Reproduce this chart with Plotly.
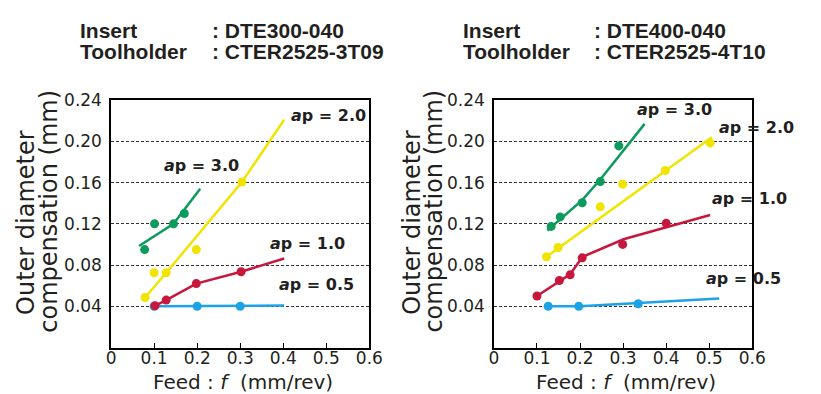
import plotly.graph_objects as go

W, H = 821, 394

# ---- left chart : DTE300-040 / CTER2525-3T09 ----
l_feed_05 = [0.10, 0.20, 0.30]
l_comp_05 = [0.040, 0.040, 0.040]
l_fit_feed_05 = [0.103, 0.402]
l_fit_comp_05 = [0.040, 0.0407]

l_feed_10 = [0.102, 0.128, 0.198, 0.302]
l_comp_10 = [0.0405, 0.046, 0.062, 0.0735]
l_fit_feed_10 = [0.102, 0.128, 0.198, 0.302, 0.402]
l_fit_comp_10 = [0.0405, 0.046, 0.062, 0.0735, 0.0864]

l_feed_20 = [0.079, 0.100, 0.128, 0.198, 0.304]
l_comp_20 = [0.0485, 0.0725, 0.0725, 0.095, 0.1605]
l_fit_feed_20 = [0.079, 0.128, 0.304, 0.402]
l_fit_comp_20 = [0.0485, 0.0725, 0.1605, 0.221]

l_feed_30 = [0.078, 0.101, 0.145, 0.170]
l_comp_30 = [0.095, 0.120, 0.120, 0.130]
l_fit_feed_30 = [0.065, 0.145, 0.207]
l_fit_comp_30 = [0.0985, 0.120, 0.154]

# ---- right chart : DTE400-040 / CTER2525-4T10 ----
r_feed_05 = [0.126, 0.197, 0.335]
r_comp_05 = [0.040, 0.040, 0.0425]
r_fit_feed_05 = [0.126, 0.200, 0.523]
r_fit_comp_05 = [0.040, 0.040, 0.0476]

r_feed_10 = [0.100, 0.152, 0.177, 0.205, 0.299, 0.400]
r_comp_10 = [0.050, 0.065, 0.0705, 0.087, 0.100, 0.1205]
r_fit_feed_10 = [0.100, 0.177, 0.206, 0.301, 0.502]
r_fit_comp_10 = [0.050, 0.071, 0.088, 0.105, 0.1285]

r_feed_20 = [0.122, 0.149, 0.247, 0.299, 0.398, 0.502]
r_comp_20 = [0.088, 0.097, 0.1365, 0.1585, 0.1717, 0.1985]
r_fit_feed_20 = [0.122, 0.506]
r_fit_comp_20 = [0.088, 0.204]

r_feed_30 = [0.133, 0.154, 0.205, 0.247, 0.290]
r_comp_30 = [0.1175, 0.1267, 0.1405, 0.161, 0.1956]
r_fit_feed_30 = [0.124, 0.205, 0.247, 0.350]
r_fit_comp_30 = [0.1135, 0.143, 0.163, 0.217]

x_ticks = [0, 0.1, 0.2, 0.3, 0.4, 0.5, 0.6]
x_labels = ["0", "0.1", "0.2", "0.3", "0.4", "0.5", "0.6"]
y_ticks = [0.04, 0.08, 0.12, 0.16, 0.20, 0.24]
y_labels = ["0.04", "0.08", "0.12", "0.16", "0.20", "0.24"]

GREEN = "#0c9b5c"
YELLOW = "#f0e400"
RED = "#c8173c"
BLUE = "#1ca2e6"

FONT = "DejaVu Sans"


def px(x):
    return x / W


def py(y):
    return 1 - y / H


fig = go.Figure()


def add_series(xa, ya, fx, fy, mx, my, color):
    fig.add_trace(go.Scatter(x=fx, y=fy, mode="lines", xaxis=xa, yaxis=ya,
                             line=dict(color=color, width=2.5), showlegend=False))
    fig.add_trace(go.Scatter(x=mx, y=my, mode="markers", xaxis=xa, yaxis=ya,
                             marker=dict(color=color, size=9), showlegend=False))


add_series("x", "y", l_fit_feed_05, l_fit_comp_05, l_feed_05, l_comp_05, BLUE)
add_series("x", "y", l_fit_feed_20, l_fit_comp_20, l_feed_20, l_comp_20, YELLOW)
add_series("x", "y", l_fit_feed_30, l_fit_comp_30, l_feed_30, l_comp_30, GREEN)
add_series("x", "y", l_fit_feed_10, l_fit_comp_10, l_feed_10, l_comp_10, RED)

add_series("x2", "y2", r_fit_feed_05, r_fit_comp_05, r_feed_05, r_comp_05, BLUE)
add_series("x2", "y2", r_fit_feed_20, r_fit_comp_20, r_feed_20, r_comp_20, YELLOW)
add_series("x2", "y2", r_fit_feed_30, r_fit_comp_30, r_feed_30, r_comp_30, GREEN)
add_series("x2", "y2", r_fit_feed_10, r_fit_comp_10, r_feed_10, r_comp_10, RED)

xaxis_style = dict(range=[0, 0.6], tickvals=x_ticks, ticktext=x_labels,
                   showline=True, mirror=True, linecolor="black", linewidth=1.5,
                   ticks="inside", ticklen=5, tickcolor="black", showgrid=False,
                   zeroline=False, ticklabelstandoff=-6,
                   tickfont=dict(family=FONT, size=17, color="#231f20"),
                   fixedrange=True)
yaxis_style = dict(range=[0, 0.24], tickvals=y_ticks, ticktext=y_labels,
                   showline=True, mirror=True, linecolor="black", linewidth=1.5,
                   ticks="", showgrid=True, gridcolor="#333333", gridwidth=1,
                   griddash="3px,2px", zeroline=False, ticklabelstandoff=4,
                   tickfont=dict(family=FONT, size=17, color="#231f20"),
                   fixedrange=True)

y_dom = [py(346.3), py(92.5)]

fig.update_layout(
    width=W, height=H, autosize=False,
    margin=dict(l=0, r=0, t=0, b=0),
    paper_bgcolor="white", plot_bgcolor="white",
    xaxis=dict(domain=[px(108.6), px(373)], anchor="y", **xaxis_style),
    yaxis=dict(domain=y_dom, anchor="x", **yaxis_style),
    xaxis2=dict(domain=[px(500.5), px(765)], anchor="y2", **xaxis_style),
    yaxis2=dict(domain=y_dom, anchor="x2", **yaxis_style),
)

ann = []


def text(x, y, s, size, family=FONT, xanchor="center", angle=0):
    ann.append(dict(x=px(x), y=py(y), xref="paper", yref="paper", text=s,
                    showarrow=False, xanchor=xanchor, yanchor="middle",
                    textangle=angle,
                    font=dict(family=family, size=size, color="#231f20")))


# headers
HEAD = "Liberation Sans"
text(75, 21, "<b>Insert</b>", 21, HEAD, "left")
text(75, 43, "<b>Toolholder</b>", 21, HEAD, "left")
text(210, 21, "<b>: DTE300-040</b>", 21, HEAD, "left")
text(210, 43, "<b>: CTER2525-3T09</b>", 21, HEAD, "left")
text(467, 21, "<b>Insert</b>", 21, HEAD, "left")
text(467, 43, "<b>Toolholder</b>", 21, HEAD, "left")
text(601, 21, "<b>: DTE400-040</b>", 21, HEAD, "left")
text(601, 43, "<b>: CTER2525-4T10</b>", 21, HEAD, "left")

# axis titles
for cx in (244, 636):
    text(cx, 382, "Feed : <i>f</i>  (mm/rev)", 20)
for x1, x2 in ((22, 45), (417, 439)):
    text(x1, 218, "Outer diameter", 24, angle=-90)
    text(x2, 206, "compensation (mm)", 24, angle=-90)

# ap labels
labels = [
    (331, 108, "2.0"), (201, 160, "3.0"), (310, 240, "1.0"), (319, 282, "0.5"),
    (685, 102, "3.0"), (769, 121, "2.0"), (762, 193, "1.0"), (756, 276, "0.5"),
]
for x, y, v in labels:
    text(x, y, "<b><i>a</i>p = " + v + "</b>", 16)

fig.update_layout(annotations=ann)

# page margin off so the 821x394 figure fills the window exactly
fig.write_html("out.html", config={"displayModeBar": False},
               post_script="document.body.style.margin='0';document.body.style.overflow='hidden';")
